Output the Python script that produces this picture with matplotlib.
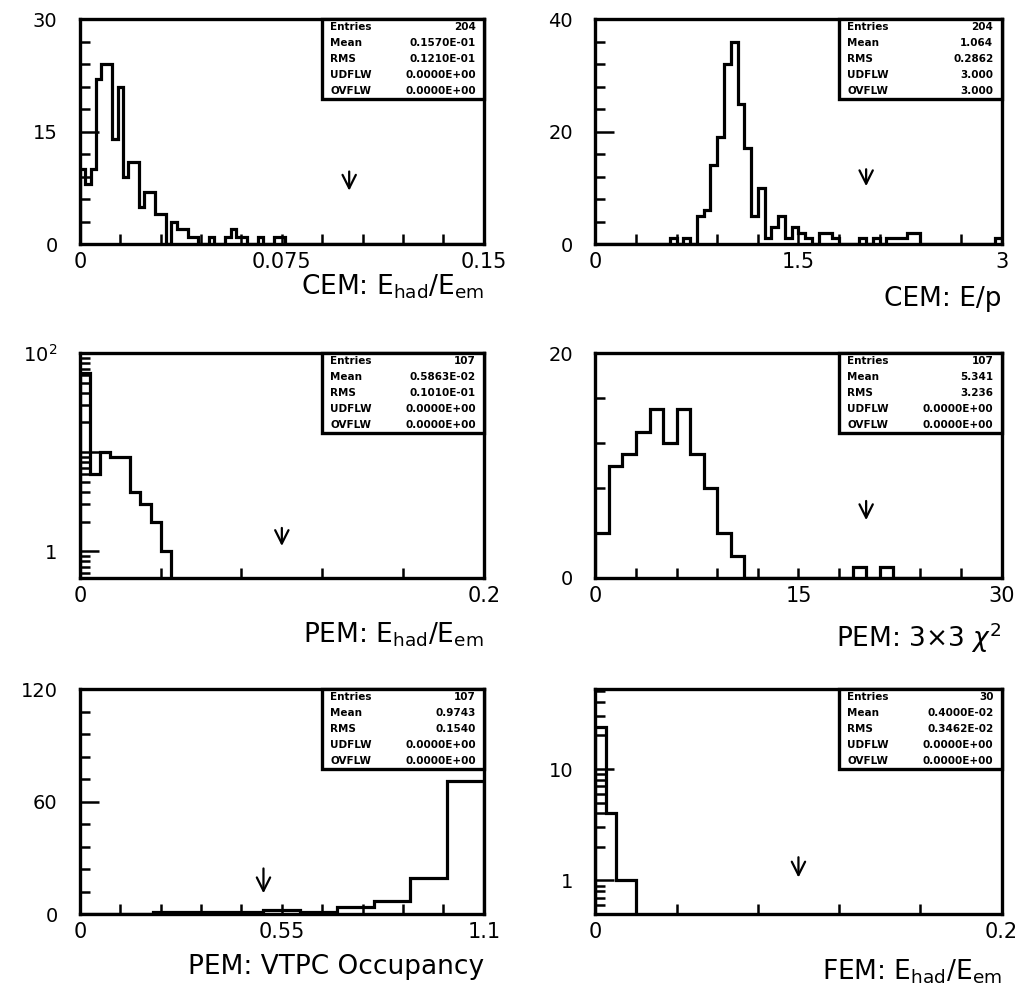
# six calorimeter-cut histograms, PAW style, 3 rows x 2 columns
import numpy as np
import matplotlib.pyplot as plt
from matplotlib.patches import Rectangle
from matplotlib.ticker import LogLocator, NullFormatter

plt.rcParams['font.family'] = ['DejaVu Sans']
plt.rcParams['mathtext.fontset'] = 'dejavusans'

# ---- data (bin edges + counts) ----
# CEM: Ehad/Eem, 75 bins 0..0.15
cem_had_edges = np.linspace(0, 0.15, 76)
cem_had_counts = [10, 8, 10, 22, 24, 24, 14, 21, 9, 11,
                  11, 5, 7, 7, 4, 4, 0, 3, 2, 2,
                  1, 1, 0, 0, 1, 0, 0, 1, 2, 1,
                  1, 0, 0, 1, 0, 0, 1, 1, 0, 0,
                  0, 0, 0, 0, 0, 0, 0, 0, 0, 0,
                  0, 0, 0, 0, 0, 0, 0, 0, 0, 0,
                  0, 0, 0, 0, 0, 0, 0, 0, 0, 0,
                  0, 0, 0, 0, 0]
# CEM: E/p, 60 bins 0..3
cem_ep_edges = np.linspace(0, 3, 61)
cem_ep_counts = [0, 0, 0, 0, 0, 0, 0, 0, 0, 0,
                 0, 1, 0, 1, 0, 5, 6, 14, 19, 32,
                 36, 25, 17, 5, 10, 1, 3, 5, 1, 3,
                 2, 1, 0, 2, 2, 1, 0, 0, 0, 1,
                 0, 1, 0, 1, 1, 1, 2, 2, 0, 0,
                 0, 0, 0, 0, 0, 0, 0, 0, 0, 1]
# PEM: Ehad/Eem (log), only the filled bins 0..0.045
pem_had_edges = np.linspace(0, 0.045, 10)
pem_had_counts = [63, 6, 10, 9, 9, 4, 3, 2, 1]
# PEM: 3x3 chi2, 30 bins 0..30
pem_chi_edges = np.linspace(0, 30, 31)
pem_chi_counts = [4, 10, 11, 13, 15, 12, 15, 11, 8, 4,
                  2, 0, 0, 0, 0, 0, 0, 0, 0, 1,
                  0, 1, 0, 0, 0, 0, 0, 0, 0, 0]
# PEM: VTPC occupancy, 11 bins 0..1.1
pem_vtpc_edges = np.linspace(0, 1.1, 12)
pem_vtpc_counts = [0, 0, 1, 1, 1, 2, 1, 4, 7, 19, 71]
# FEM: Ehad/Eem (log), filled bins 0..0.02
fem_had_edges = np.linspace(0, 0.02, 5)
fem_had_counts = [24, 4, 1, 1]

# statistics boxes
stat_names = ['Entries', 'Mean', 'RMS', 'UDFLW', 'OVFLW']
stats = [
    ['204', '0.1570E-01', '0.1210E-01', '0.0000E+00', '0.0000E+00'],
    ['204', '1.064', '0.2862', '3.000', '3.000'],
    ['107', '0.5863E-02', '0.1010E-01', '0.0000E+00', '0.0000E+00'],
    ['107', '5.341', '3.236', '0.0000E+00', '0.0000E+00'],
    ['107', '0.9743', '0.1540', '0.0000E+00', '0.0000E+00'],
    ['30', '0.4000E-02', '0.3462E-02', '0.0000E+00', '0.0000E+00'],
]
cuts = [0.1, 2.0, 0.1, 20, 0.5, 0.1]

xlabels = ['CEM: E$_{\\mathrm{had}}$/E$_{\\mathrm{em}}$',
           'CEM: E/p',
           'PEM: E$_{\\mathrm{had}}$/E$_{\\mathrm{em}}$',
           'PEM: 3\u00d73 $\\chi^2$',
           'PEM: VTPC Occupancy',
           'FEM: E$_{\\mathrm{had}}$/E$_{\\mathrm{em}}$']

# ---- per-panel layout ----
panels = [
    dict(edges=cem_had_edges, counts=cem_had_counts, xlim=(0, 0.15),
         xt=[0, 0.075, 0.15], xtl=['0', '0.075', '0.15'], xminor=0.015,
         ylim=(0, 30), yt=[0, 15, 30], ytl=['0', '15', '30'], yminor=3,
         arrow=(0.225, 0.335), lgap=0.125),
    dict(edges=cem_ep_edges, counts=cem_ep_counts, xlim=(0, 3),
         xt=[0, 1.5, 3], xtl=['0', '1.5', '3'], xminor=0.3,
         ylim=(0, 40), yt=[0, 20, 40], ytl=['0', '20', '40'], yminor=4,
         arrow=(0.245, 0.345), lgap=0.185),
    dict(edges=pem_had_edges, counts=pem_had_counts, xlim=(0, 0.2),
         xt=[0, 0.2], xtl=['0', '0.2'], xminor=0.04,
         ylim=(0.54, 100), log=True, yt=[1, 10, 100],
         ytl=['1', '', '10$^2$'], arrow=(0.13, 0.235), lgap=0.19),
    dict(edges=pem_chi_edges, counts=pem_chi_counts, xlim=(0, 30),
         xt=[0, 15, 30], xtl=['0', '15', '30'], xminor=3,
         ylim=(0, 20), yt=[0, 20], ytl=['0', '20'], yminor=4,
         arrow=(0.245, 0.355), lgap=0.19),
    dict(edges=pem_vtpc_edges, counts=pem_vtpc_counts, xlim=(0, 1.1),
         xt=[0, 0.55, 1.1], xtl=['0', '0.55', '1.1'], xminor=0.11,
         ylim=(0, 120), yt=[0, 60, 120], ytl=['0', '60', '120'], yminor=12,
         arrow=(0.08, 0.215), lgap=0.18),
    dict(edges=fem_had_edges, counts=fem_had_counts, xlim=(0, 0.2),
         xt=[0, 0.2], xtl=['0', '0.2'], xminor=0.04,
         ylim=(0.5, 52), log=True, yt=[1, 10], ytl=['1', '10'],
         arrow=(0.15, 0.265), lgap=0.195),
]

fig = plt.figure(figsize=(10.23, 9.86), dpi=100)
col_x = [0.078, 0.582]
col_w = [0.395, 0.397]
row_y = [0.7525, 0.4138, 0.073]
ax_h = 0.228

for i, p in enumerate(panels):
    r, c = divmod(i, 2)
    ax = fig.add_axes([col_x[c], row_y[r], col_w[c], ax_h])
    log = p.get('log', False)
    if log:
        ax.set_yscale('log')
    ax.set_xlim(*p['xlim'])
    ax.set_ylim(*p['ylim'])

    base = p['ylim'][0] if log else 0
    ax.stairs(p['counts'], p['edges'], baseline=base, color='black', lw=2.3)

    # ticks
    ax.set_xticks(p['xt'], labels=p['xtl'])
    ax.set_xticks(np.arange(0, p['xlim'][1] + 1e-9, p['xminor']), minor=True)
    ax.set_yticks(p['yt'], labels=p['ytl'])
    if log:
        ax.yaxis.set_minor_locator(LogLocator(base=10, subs=np.arange(2, 10)))
        ax.yaxis.set_minor_formatter(NullFormatter())
    else:
        ax.set_yticks(np.arange(0, p['ylim'][1] + 1e-9, p['yminor']), minor=True)
    ax.tick_params(which='both', direction='in', top=False, right=False,
                   width=1.8, color='black')
    ax.tick_params(axis='x', which='both', length=7, labelsize=15, pad=6)
    ax.tick_params(axis='y', which='major', length=14, labelsize=14, pad=16)
    ax.tick_params(axis='y', which='minor', length=7)
    for s in ax.spines.values():
        s.set_linewidth(2.4)

    # statistics box
    bx, by = 0.60, 0.645
    ax.add_patch(Rectangle((bx, by), 1 - bx, 1 - by, transform=ax.transAxes,
                           facecolor='white', edgecolor='black', lw=2.4,
                           zorder=5, clip_on=False))
    for k, (name, val) in enumerate(zip(stat_names, stats[i])):
        yy = 1 - (k + 0.5) * (1 - by) / 5
        ax.text(bx + 0.02, yy, name, transform=ax.transAxes, fontsize=7.5,
                fontweight='bold', ha='left', va='center', zorder=6)
        ax.text(0.98, yy, val, transform=ax.transAxes, fontsize=7.5,
                fontweight='bold', ha='right', va='center', zorder=6)

    # cut arrow
    tip, top = p['arrow']
    ax.annotate('', xy=(cuts[i], tip), xycoords=('data', 'axes fraction'),
                xytext=(cuts[i], top), textcoords=('data', 'axes fraction'),
                arrowprops=dict(arrowstyle='->', lw=1.6, color='black',
                                mutation_scale=24))

    # x label, right aligned under the axis
    ax.text(1.0, -p['lgap'], xlabels[i], transform=ax.transAxes,
            ha='right', va='top', fontsize=19)

fig.savefig('out.png', dpi=100)
